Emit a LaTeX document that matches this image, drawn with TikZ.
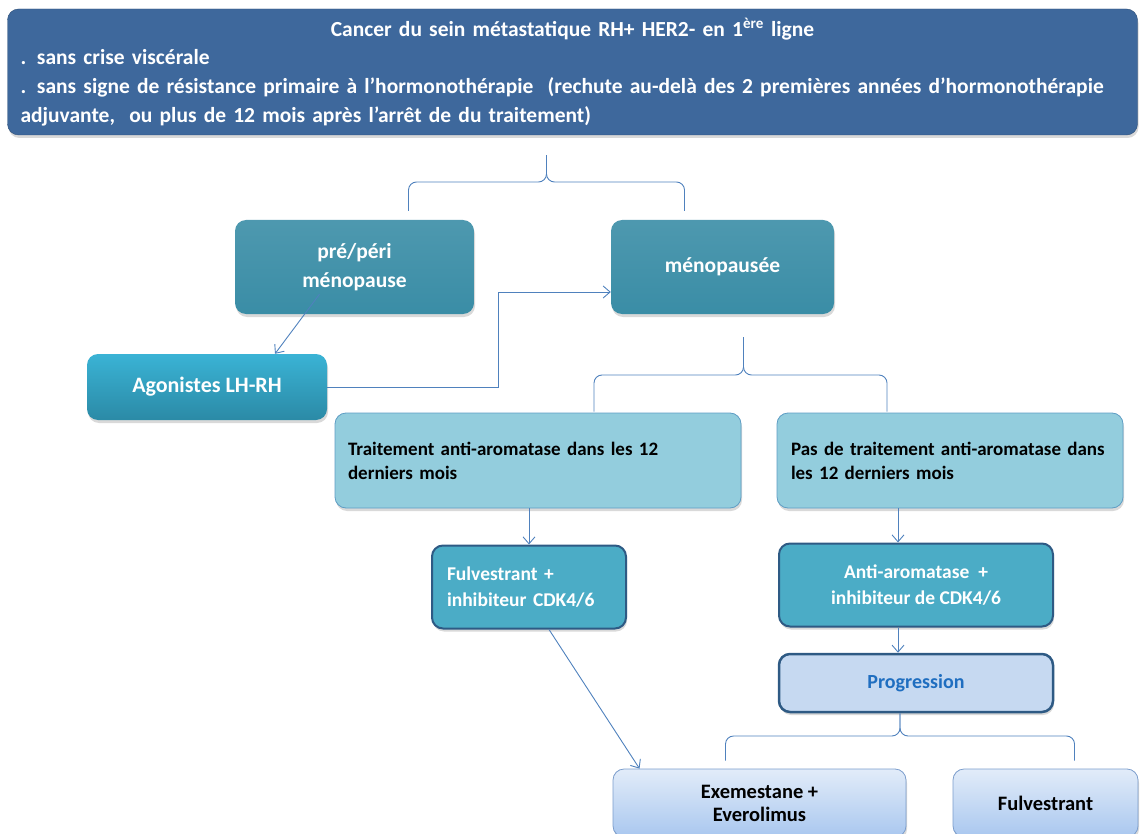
\documentclass[tikz,border=0pt]{standalone}
\usepackage{fontspec}
\setmainfont{Carlito}
\usetikzlibrary{arrows.meta,shadows}
\definecolor{bleutitre}{HTML}{3E689C}
\definecolor{bordtitre}{HTML}{2F5078}
\definecolor{sarcelle}{HTML}{3A8DA6}
\definecolor{cyanhaut}{HTML}{3AB3D5}
\definecolor{cyanbas}{HTML}{2B8AA6}
\definecolor{bleuclair}{HTML}{93CDDD}
\definecolor{bordclair}{HTML}{5E9DC4}
\definecolor{bleumoyen}{HTML}{4BACC6}
\definecolor{bordfonce}{HTML}{2E5A84}
\definecolor{bleupale}{HTML}{C6D9F1}
\definecolor{texteprog}{HTML}{1F6EC0}
\definecolor{degradehaut}{HTML}{E2ECF9}
\definecolor{degradebas}{HTML}{A9C7EF}
\definecolor{bordpale}{HTML}{7B9DCC}
\definecolor{trait}{HTML}{4F81BD}
\tikzset{
  boite/.style={rectangle, rounded corners=11pt, font=\bfseries,
    drop shadow={opacity=0.3, shadow xshift=1pt, shadow yshift=-3pt}},
  titre/.style={boite, fill=bleutitre, draw=bordtitre, text=white, align=left,
    font=\bfseries\fontsize{21.5}{28.7}\selectfont},
  choix/.style={boite, top color=sarcelle!90!white, bottom color=sarcelle,
    text=white, align=center, font=\bfseries\fontsize{21.5}{29}\selectfont},
  agoniste/.style={boite, top color=cyanhaut, bottom color=cyanbas, text=white,
    font=\bfseries\fontsize{22}{29}\selectfont},
  critere/.style={boite, fill=bleuclair, draw=bordclair, line width=0.8pt, align=left,
    font=\bfseries\fontsize{19}{24}\selectfont},
  traitement/.style={boite, fill=bleumoyen, draw=bordfonce, line width=2pt, text=white,
    font=\bfseries\fontsize{19.5}{26}\selectfont},
  progres/.style={boite, fill=bleupale, draw=bordfonce, line width=2.5pt, text=texteprog,
    font=\bfseries\fontsize{20}{26}\selectfont},
  option/.style={boite, top color=degradehaut, bottom color=degradebas, draw=bordpale,
    line width=0.8pt, align=center, font=\bfseries\fontsize{20.5}{23}\selectfont},
  fleche/.style={draw=trait, line width=0.9pt, -{Straight Barb[length=7pt,width=12pt]}},
  accol/.style={draw=trait, line width=0.9pt, rounded corners=8pt},
}
\begin{document}
\begin{tikzpicture}[x=1pt,y=-1pt]
  \useasboundingbox (0,0) rectangle (1140,834);
  \clip (0,0) rectangle (1140,834);
  % encadre du haut
  \node[titre, minimum width=1130pt, minimum height=126pt, text width=1104pt] (cancer) at (572.5,72)
    {{\centering Cancer du sein métastatique RH+ HER2- en 1\textsuperscript{ère} ligne\par}
     . sans crise viscérale\\
     . sans signe de résistance primaire à l’hormonothérapie~ (rechute au-delà des 2 premières années d’hormonothérapie\\
     adjuvante,~ ou plus de 12 mois après l’arrêt de du traitement)};
  % statut menopausique
  \node[choix, minimum width=239pt, minimum height=94pt] (pre) at (354.5,267) {pré/péri\\ménopause};
  \node[choix, minimum width=223pt, minimum height=94pt] (meno) at (722.5,267) {ménopausée};
  \node[agoniste, minimum width=240pt, minimum height=66pt] (ago) at (207,387) {Agonistes LH-RH};
  % anti-aromatase
  \node[critere, minimum width=406pt, minimum height=95pt, text width=380pt] (aa) at (538,460.5)
    {Traitement anti-aromatase dans les 12\\derniers mois};
  \node[critere, minimum width=346pt, minimum height=95pt, text width=318pt] (pasaa) at (950,460.5)
    {Pas de traitement anti-aromatase dans\\les 12 derniers mois};
  \node[traitement, minimum width=194pt, minimum height=83pt, text width=164pt, align=left] (fulvcdk) at (529,587)
    {Fulvestrant +\\inhibiteur CDK4/6};
  \node[traitement, minimum width=274pt, minimum height=83pt, align=center] (aacdk) at (916,585)
    {Anti-aromatase~ +\\inhibiteur de CDK4/6};
  \node[progres, minimum width=274pt, minimum height=58pt] (prog) at (916,683) {Progression};
  \node[option, minimum width=293pt, minimum height=68pt] (exe) at (759.5,803) {Exemestane +\\Everolimus};
  \node[option, minimum width=185pt, minimum height=68pt] (fulv) at (1045.5,803) {Fulvestrant};
  % accolades
  \coordinate (p1) at ([xshift=-26pt,yshift=-20pt]cancer.south);
  \coordinate (g1) at ([xshift=54pt,yshift=9pt]pre.north);
  \coordinate (d1) at ([xshift=-38pt,yshift=9pt]meno.north);
  \draw[accol] (g1) -- (g1 |- 0,182) -- (p1 |- 0,182) -- (p1);
  \draw[accol] (d1) -- (d1 |- 0,182) -- (p1 |- 0,182) -- (p1);
  \coordinate (p2) at ([xshift=21pt,yshift=-23pt]meno.south);
  \coordinate (g2) at ([xshift=56pt,yshift=1pt]aa.north);
  \coordinate (d2) at ([xshift=-63pt,yshift=1pt]pasaa.north);
  \draw[accol] (g2) -- (g2 |- 0,375) -- (p2 |- 0,375) -- (p2);
  \draw[accol] (d2) -- (d2 |- 0,375) -- (p2 |- 0,375) -- (p2);
  \coordinate (p3) at ([xshift=-16pt]prog.south);
  \coordinate (g3) at ([xshift=-34pt,yshift=8pt]exe.north);
  \coordinate (d3) at ([xshift=29pt,yshift=8pt]fulv.north);
  \draw[accol] (g3) -- (g3 |- 0,736) -- (p3 |- 0,736) -- (p3);
  \draw[accol] (d3) -- (d3 |- 0,736) -- (p3 |- 0,736) -- (p3);
  % fleches
  \draw[fleche] ([xshift=-35pt,yshift=20pt]pre.south) -- ([xshift=68pt]ago.north);
  \draw[fleche] (ago.east) -- ++(171,0) |- ([yshift=-25pt]meno.west);
  \draw[fleche] (aa.south -| fulvcdk.north) -- (fulvcdk.north);
  \draw[fleche] ([xshift=-18pt]pasaa.south -| aacdk.north) -- ([xshift=-18pt]aacdk.north);
  \draw[fleche] ([xshift=-18pt]aacdk.south) -- ([xshift=-18pt]prog.north);
  \draw[fleche] ([xshift=20pt]fulvcdk.south) -- ([xshift=-120pt]exe.north);
\end{tikzpicture}
\end{document}
